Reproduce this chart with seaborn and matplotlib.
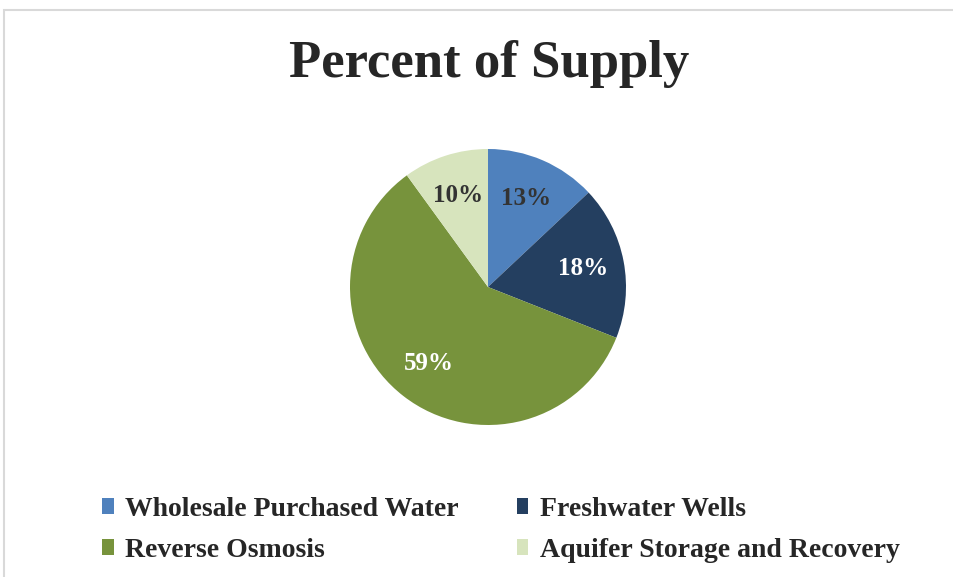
import matplotlib
matplotlib.use("Agg")
import matplotlib.pyplot as plt
from matplotlib.patches import Patch, Rectangle
import seaborn as sns

# data
categories = ["Wholesale Purchased Water", "Freshwater Wells",
              "Reverse Osmosis", "Aquifer Storage and Recovery"]
shares = [13, 18, 59, 10]
colors = ["#4F81BD", "#243F60", "#77933C", "#D7E4BD"]
label_colors = ["#333333", "white", "white", "#333333"]

sns.set_theme(style="white")
plt.rcParams["font.family"] = ["Liberation Serif", "DejaVu Serif"]

W, H = 954, 577
fig = plt.figure(figsize=(W / 100, H / 100), dpi=100)

# light chart border (cut off at right and bottom like the screenshot)
fig.patches.append(Rectangle((4.5 / W, -0.1), 1.2, 1.1 - 9.5 / H, transform=fig.transFigure,
                             fill=False, edgecolor="#D9D9D9", linewidth=1.5))

cx, cy, r = 488, 287, 138
ax = fig.add_axes([(cx - r) / W, (H - cy - r) / H, 2 * r / W, 2 * r / H])
wedges, texts = ax.pie(shares, colors=colors, startangle=90, counterclock=False,
                       labels=[f"{v}%" for v in shares], labeldistance=0.7,
                       wedgeprops=dict(linewidth=0))
for t, c in zip(texts, label_colors):
    t.set_color(c)
    t.set_fontsize(18)
    t.set_fontweight("bold")
    t.set_ha("center")
    t.set_va("center")
ax.set_xlim(-1, 1)
ax.set_ylim(-1, 1)
ax.set_aspect("auto")
ax.axis("off")

fig.text(489 / W, 1 - 64 / H, "Percent of Supply", ha="center", va="center",
         fontsize=38, fontweight="bold", color="#262626")

# legend filled row by row, like the original
order = [0, 2, 1, 3]
handles = [Patch(facecolor=colors[i], edgecolor="none") for i in order]
labels = [categories[i] for i in order]
leg = fig.legend(handles, labels, ncol=2, loc="upper left",
                 bbox_to_anchor=(77 / W, 1 - 472 / H), frameon=False,
                 prop=dict(size=20, weight="bold"),
                 handlelength=0.42, handleheight=0.5, handletextpad=0.4,
                 columnspacing=2.1, labelspacing=0.57)
for t in leg.get_texts():
    t.set_color("#262626")

fig.savefig("out.png", dpi=100)
